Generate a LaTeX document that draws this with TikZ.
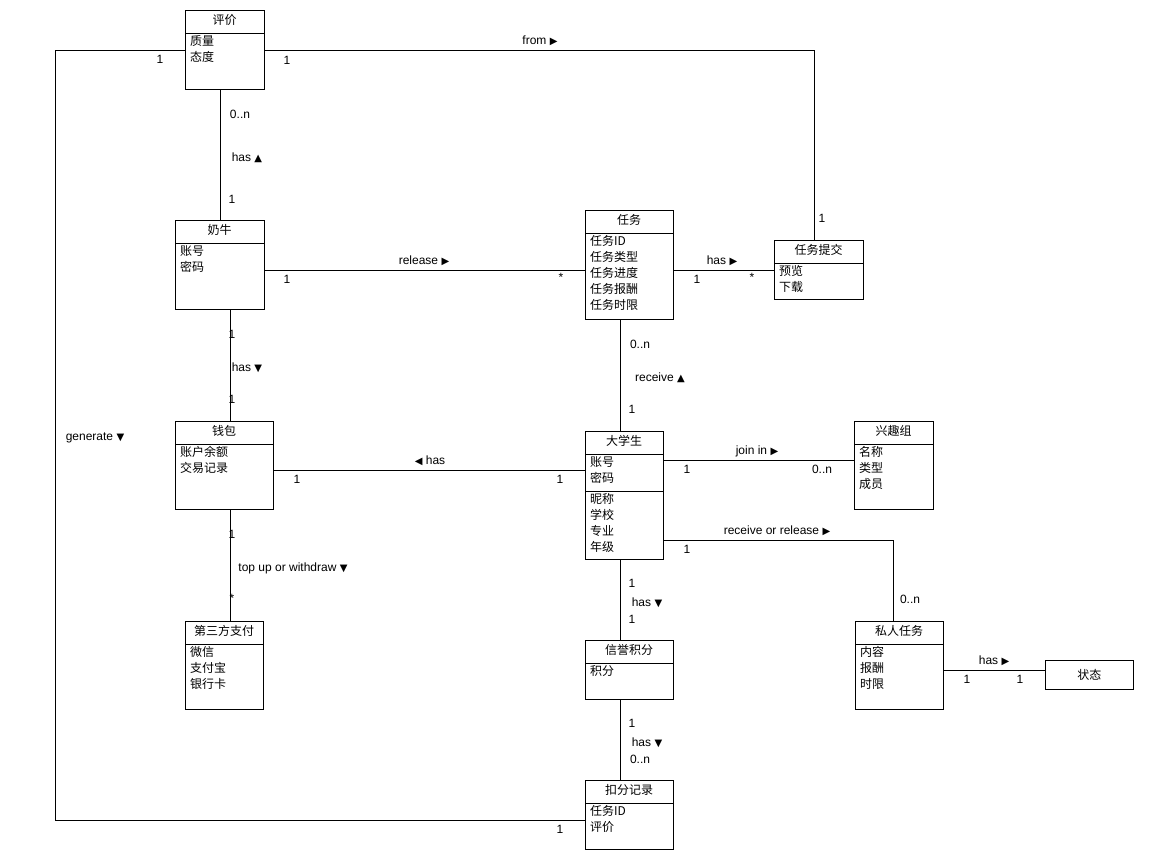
\documentclass[tikz,border=0pt]{standalone}
\usepackage{fontspec}
\setmainfont{Liberation Sans}
\newfontfamily\cjk{Noto Sans CJK SC}
\newfontfamily\symf{DejaVu Sans}
\newcommand{\tri}[1]{{\symf\fontsize{10}{12}\selectfont #1}}
\begin{document}
\begin{tikzpicture}[x=1pt,y=-1pt,
  box/.style={draw,line width=0.8pt,anchor=north west,inner sep=0pt},
  ttl/.style={anchor=north,inner sep=0pt,font=\cjk\fontsize{12}{14}\selectfont},
  att/.style={anchor=north west,inner sep=0pt,align=left,font=\cjk\fontsize{12}{16}\selectfont},
  lab/.style={inner sep=0pt,font=\fontsize{12}{14}\selectfont},
  ln/.style={line width=0.8pt}]
\fill[white] (0,0) rectangle (1150,867);
\useasboundingbox (0,0) rectangle (1150,867);
% boxes: name, x, y, w, h, divider
\newcommand{\ubox}[8]{%
  \node[box,minimum width=#4pt,minimum height=#5pt] (#1) at (#2,#3) {};
  \draw[ln] (#2,#3+#6) -- (#2+#4,#3+#6);
  \node[ttl] (#1t) at (#2+#4/2,#3+4) {#7};
  \node[att] (#1a) at (#2+5,#3+#6+2) {#8};}
\ubox{pj}{185}{10}{79}{79}{23}{评价}{质量\\态度}
\ubox{nn}{175}{220}{89}{89}{23}{奶牛}{账号\\密码}
\ubox{rw}{585}{210}{88}{109}{23}{任务}{任务ID\\任务类型\\任务进度\\任务报酬\\任务时限}
\ubox{tj}{774}{240}{89}{59}{23}{任务提交}{预览\\下载}
\ubox{qb}{175}{421}{98}{88}{23}{钱包}{账户余额\\交易记录}
\ubox{dx}{585}{431}{78}{128}{23}{大学生}{账号\\密码}
\draw[ln] (585,491) -- (663,491);
\node[att] (dx2) at (590,493) {昵称\\学校\\专业\\年级};
\ubox{xq}{854}{421}{79}{88}{23}{兴趣组}{名称\\类型\\成员}
\ubox{sf}{185}{621}{78}{88}{23}{第三方支付}{微信\\支付宝\\银行卡}
\ubox{xy}{585}{640}{88}{59}{23}{信誉积分}{积分}
\ubox{sr}{855}{621}{88}{88}{23}{私人任务}{内容\\报酬\\时限}
\node[box,minimum width=88pt,minimum height=29pt] (zt) at (1045,660) {};
\node[ttl,anchor=center] at (zt.center) {状态};
\ubox{kf}{585}{780}{88}{69}{23}{扣分记录}{任务ID\\评价}
% connectors
\draw[ln] (pj.east |- {(0,50)}) -| (tj.north -| {(814,0)});
\node[lab] at (540,41) {from \tri{▶}};
\node[lab] at (287,60) {1}; \node[lab] at (822,218) {1};
\draw[ln] (pj.west |- {(0,50)}) -- (55,50) -- (55,820) -- (kf.west |- {(0,820)});
\node[lab] at (160,59) {1}; \node[lab] at (560,829) {1};
\node[lab] at (95,438) {generate \tri{▼}};
\draw[ln] (pj.south -| {(220,0)}) -- (nn.north -| {(220,0)});
\node[lab] at (240,114) {0..n}; \node[lab] at (247,158) {has \tri{▲}}; \node[lab] at (232,199) {1};
\draw[ln] (nn.east |- {(0,270)}) -- (rw.west |- {(0,270)});
\node[lab] at (424,261) {release \tri{▶}}; \node[lab] at (287,279) {1}; \node[lab] at (561,277) {*};
\draw[ln] (rw.east |- {(0,270)}) -- (tj.west |- {(0,270)});
\node[lab] at (722,261) {has \tri{▶}}; \node[lab] at (697,279) {1}; \node[lab] at (752,277) {*};
\draw[ln] (rw.south -| {(620,0)}) -- (dx.north -| {(620,0)});
\node[lab] at (640,344) {0..n}; \node[lab] at (660,378) {receive \tri{▲}}; \node[lab] at (632,409) {1};
\draw[ln] (nn.south -| {(230,0)}) -- (qb.north -| {(230,0)});
\node[lab] at (232,334) {1}; \node[lab] at (247,368) {has \tri{▼}}; \node[lab] at (232,399) {1};
\draw[ln] (qb.east |- {(0,470)}) -- (dx.west |- {(0,470)});
\node[lab] at (430,461) {\tri{◀} has}; \node[lab] at (297,479) {1}; \node[lab] at (560,479) {1};
\draw[ln] (dx.east |- {(0,460)}) -- (xq.west |- {(0,460)});
\node[lab] at (757,451) {join in \tri{▶}}; \node[lab] at (687,469) {1}; \node[lab] at (822,469) {0..n};
\draw[ln] (dx.east |- {(0,540)}) -| (sr.north -| {(893,0)});
\node[lab] at (777,531) {receive or release \tri{▶}}; \node[lab] at (687,549) {1}; \node[lab] at (910,599) {0..n};
\draw[ln] (qb.south -| {(230,0)}) -- (sf.north -| {(230,0)});
\node[lab] at (232,534) {1}; \node[lab] at (293,568) {top up or withdraw \tri{▼}}; \node[lab] at (232,598) {*};
\draw[ln] (dx.south -| {(620,0)}) -- (xy.north -| {(620,0)});
\node[lab] at (632,583) {1}; \node[lab] at (647,603) {has \tri{▼}}; \node[lab] at (632,619) {1};
\draw[ln] (xy.south -| {(620,0)}) -- (kf.north -| {(620,0)});
\node[lab] at (632,723) {1}; \node[lab] at (647,743) {has \tri{▼}}; \node[lab] at (640,759) {0..n};
\draw[ln] (sr.east |- {(0,670)}) -- (zt.west |- {(0,670)});
\node[lab] at (994,661) {has \tri{▶}}; \node[lab] at (967,679) {1}; \node[lab] at (1020,679) {1};
\end{tikzpicture}
\end{document}
